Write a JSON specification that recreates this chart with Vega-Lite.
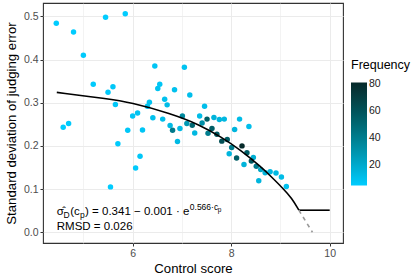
{
  "$schema": "https://vega.github.io/schema/vega-lite/v6.json",
  "width": 300,
  "height": 240,
  "autosize": {"type": "none"},
  "padding": {"left": 43, "top": 3, "right": 72, "bottom": 34},
  "background": "white",
  "config": {
    "font": "Liberation Sans",
    "view": {"stroke": "#333333", "strokeWidth": 1.1},
    "axis": {
      "labelFont": "Liberation Sans",
      "titleFont": "Liberation Sans",
      "labelFontSize": 10.5,
      "labelColor": "#4D4D4D",
      "titleFontSize": 13.2,
      "titleFontWeight": "normal",
      "titleColor": "#000000",
      "domain": false,
      "tickColor": "#333333",
      "tickSize": 3,
      "labelPadding": 2,
      "gridColor": "#EBEBEB"
    },
    "legend": {
      "titleFont": "Liberation Sans",
      "labelFont": "Liberation Sans"
    },
    "text": {"font": "Liberation Sans", "color": "#000000"}
  },
  "datasets": {
    "points": [
      {"score": 4.45, "sd": 0.484, "freq": 5},
      {"score": 4.80, "sd": 0.464, "freq": 5},
      {"score": 5.00, "sd": 0.410, "freq": 6},
      {"score": 5.45, "sd": 0.498, "freq": 5},
      {"score": 5.85, "sd": 0.506, "freq": 5},
      {"score": 5.20, "sd": 0.343, "freq": 6},
      {"score": 4.59, "sd": 0.243, "freq": 5},
      {"score": 4.70, "sd": 0.252, "freq": 6},
      {"score": 5.50, "sd": 0.324, "freq": 6},
      {"score": 5.60, "sd": 0.337, "freq": 7},
      {"score": 5.65, "sd": 0.296, "freq": 7},
      {"score": 6.45, "sd": 0.385, "freq": 8},
      {"score": 6.51, "sd": 0.333, "freq": 9},
      {"score": 6.55, "sd": 0.343, "freq": 8},
      {"score": 6.34, "sd": 0.301, "freq": 9},
      {"score": 6.30, "sd": 0.292, "freq": 10},
      {"score": 6.41, "sd": 0.265, "freq": 10},
      {"score": 6.00, "sd": 0.269, "freq": 8},
      {"score": 6.10, "sd": 0.276, "freq": 9},
      {"score": 5.90, "sd": 0.236, "freq": 7},
      {"score": 6.20, "sd": 0.237, "freq": 8},
      {"score": 6.61, "sd": 0.262, "freq": 11},
      {"score": 6.65, "sd": 0.308, "freq": 10},
      {"score": 6.70, "sd": 0.295, "freq": 12},
      {"score": 6.85, "sd": 0.330, "freq": 10},
      {"score": 7.05, "sd": 0.382, "freq": 9},
      {"score": 7.16, "sd": 0.318, "freq": 11},
      {"score": 6.76, "sd": 0.247, "freq": 13},
      {"score": 6.81, "sd": 0.236, "freq": 42},
      {"score": 6.96, "sd": 0.240, "freq": 13},
      {"score": 7.01, "sd": 0.269, "freq": 35},
      {"score": 7.10, "sd": 0.252, "freq": 28},
      {"score": 7.21, "sd": 0.248, "freq": 50},
      {"score": 7.26, "sd": 0.230, "freq": 14},
      {"score": 7.36, "sd": 0.269, "freq": 12},
      {"score": 7.46, "sd": 0.292, "freq": 11},
      {"score": 7.51, "sd": 0.262, "freq": 55},
      {"score": 7.41, "sd": 0.253, "freq": 32},
      {"score": 5.70, "sd": 0.205, "freq": 6},
      {"score": 6.15, "sd": 0.176, "freq": 7},
      {"score": 6.06, "sd": 0.149, "freq": 6},
      {"score": 5.55, "sd": 0.105, "freq": 5},
      {"score": 6.91, "sd": 0.210, "freq": 13},
      {"score": 7.65, "sd": 0.266, "freq": 16},
      {"score": 7.76, "sd": 0.261, "freq": 15},
      {"score": 7.86, "sd": 0.262, "freq": 14},
      {"score": 8.17, "sd": 0.262, "freq": 12},
      {"score": 8.36, "sd": 0.245, "freq": 11},
      {"score": 8.07, "sd": 0.238, "freq": 15},
      {"score": 7.61, "sd": 0.240, "freq": 55},
      {"score": 7.53, "sd": 0.229, "freq": 40},
      {"score": 7.71, "sd": 0.227, "freq": 58},
      {"score": 7.81, "sd": 0.211, "freq": 62},
      {"score": 7.92, "sd": 0.215, "freq": 55},
      {"score": 8.01, "sd": 0.196, "freq": 40},
      {"score": 7.96, "sd": 0.182, "freq": 15},
      {"score": 8.22, "sd": 0.200, "freq": 81},
      {"score": 8.11, "sd": 0.172, "freq": 55},
      {"score": 8.32, "sd": 0.184, "freq": 55},
      {"score": 8.26, "sd": 0.157, "freq": 16},
      {"score": 8.45, "sd": 0.173, "freq": 18},
      {"score": 8.41, "sd": 0.165, "freq": 58},
      {"score": 8.51, "sd": 0.153, "freq": 42},
      {"score": 8.60, "sd": 0.145, "freq": 22},
      {"score": 8.69, "sd": 0.138, "freq": 16},
      {"score": 8.79, "sd": 0.140, "freq": 14},
      {"score": 8.91, "sd": 0.137, "freq": 13},
      {"score": 9.02, "sd": 0.128, "freq": 12},
      {"score": 9.12, "sd": 0.106, "freq": 10},
      {"score": 8.56, "sd": 0.119, "freq": 15}
    ],
    "curve": [
      {"score": 4.46, "sd": 0.324},
      {"score": 5.48, "sd": 0.309},
      {"score": 5.95, "sd": 0.301},
      {"score": 6.77, "sd": 0.275},
      {"score": 7.38, "sd": 0.248},
      {"score": 7.79, "sd": 0.221},
      {"score": 8.20, "sd": 0.190},
      {"score": 8.61, "sd": 0.151},
      {"score": 8.82, "sd": 0.128},
      {"score": 9.055, "sd": 0.101},
      {"score": 9.23, "sd": 0.079},
      {"score": 9.374, "sd": 0.051}
    ],
    "floor": [
      {"score": 9.374, "sd": 0.051},
      {"score": 10.0, "sd": 0.051}
    ],
    "tail": [
      {"score": 9.374, "sd": 0.051},
      {"score": 9.65, "sd": 0.0}
    ]
  },
  "layer": [
    {
      "data": {"name": "points"},
      "mark": {"type": "circle", "size": 30, "opacity": 1},
      "encoding": {
        "x": {
          "field": "score", "type": "quantitative",
          "scale": {"domain": [4.18, 10.27], "nice": false, "zero": false},
          "axis": {
            "title": "Control score",
            "values": [5, 6, 7, 8, 9, 10],
            "labelExpr": "datum.value % 2 == 0 ? datum.label : ''",
            "tickOpacity": {"condition": {"test": "datum.value % 2 == 0", "value": 1}, "value": 0},
            "gridWidth": {"condition": {"test": "datum.value % 2 == 0", "value": 1}, "value": 0.6},
            "titlePadding": 4
          }
        },
        "y": {
          "field": "sd", "type": "quantitative",
          "scale": {"domain": [-0.025, 0.531], "nice": false, "zero": false},
          "axis": {
            "title": "Standard deviation of judging error",
            "values": [0, 0.05, 0.1, 0.15, 0.2, 0.25, 0.3, 0.35, 0.4, 0.45, 0.5],
            "format": ".1f",
            "labelExpr": "round(datum.value * 100) % 10 == 0 ? datum.label : ''",
            "tickOpacity": {"condition": {"test": "round(datum.value * 100) % 10 == 0", "value": 1}, "value": 0},
            "gridWidth": {"condition": {"test": "round(datum.value * 100) % 10 == 0", "value": 1}, "value": 0.6},
            "titlePadding": 5
          }
        },
        "color": {
          "field": "freq", "type": "quantitative",
          "scale": {"domain": [5, 81], "range": ["#00CCFF", "#062A2A"]},
          "legend": {
            "title": "Frequency",
            "orient": "none",
            "legendX": 308,
            "legendY": 56,
            "direction": "vertical",
            "gradientLength": 103,
            "gradientThickness": 16,
            "values": [20, 40, 60, 80],
            "titleFontSize": 12.5,
            "titleFontWeight": "normal",
            "titleColor": "#000000",
            "titlePadding": 11,
            "labelFontSize": 10.5,
            "labelColor": "#1A1A1A",
            "labelOffset": 2,
            "gradientStrokeWidth": 0
          }
        }
      }
    },
    {
      "data": {"name": "curve"},
      "mark": {"type": "line", "color": "#000000", "strokeWidth": 1.6, "interpolate": "basis"},
      "encoding": {
        "x": {"field": "score", "type": "quantitative"},
        "y": {"field": "sd", "type": "quantitative"}
      }
    },
    {
      "data": {"name": "floor"},
      "mark": {"type": "line", "color": "#000000", "strokeWidth": 1.6},
      "encoding": {
        "x": {"field": "score", "type": "quantitative"},
        "y": {"field": "sd", "type": "quantitative"}
      }
    },
    {
      "data": {"name": "tail"},
      "mark": {"type": "line", "color": "#999999", "strokeWidth": 1.6, "strokeDash": [4, 4]},
      "encoding": {
        "x": {"field": "score", "type": "quantitative"},
        "y": {"field": "sd", "type": "quantitative"}
      }
    },
    {
      "data": {"values": [{"t": "σ̂"}]},
      "mark": {"type": "text", "align": "left", "baseline": "alphabetic", "fontSize": 11.5, "dx": 0},
      "encoding": {"x": {"datum": 4.46, "type": "quantitative"}, "y": {"datum": 0.041, "type": "quantitative"}, "text": {"field": "t"}}
    },
    {
      "data": {"values": [{"t": "D"}]},
      "mark": {"type": "text", "align": "left", "baseline": "alphabetic", "fontSize": 8.5, "dx": 6.8, "dy": 3},
      "encoding": {"x": {"datum": 4.46, "type": "quantitative"}, "y": {"datum": 0.041, "type": "quantitative"}, "text": {"field": "t"}}
    },
    {
      "data": {"values": [{"t": "(c"}]},
      "mark": {"type": "text", "align": "left", "baseline": "alphabetic", "fontSize": 11.5, "dx": 13.5},
      "encoding": {"x": {"datum": 4.46, "type": "quantitative"}, "y": {"datum": 0.041, "type": "quantitative"}, "text": {"field": "t"}}
    },
    {
      "data": {"values": [{"t": "p"}]},
      "mark": {"type": "text", "align": "left", "baseline": "alphabetic", "fontSize": 8.5, "dx": 23.3, "dy": 3},
      "encoding": {"x": {"datum": 4.46, "type": "quantitative"}, "y": {"datum": 0.041, "type": "quantitative"}, "text": {"field": "t"}}
    },
    {
      "data": {"values": [{"t": ") = 0.341 − 0.001 · e"}]},
      "mark": {"type": "text", "align": "left", "baseline": "alphabetic", "fontSize": 11.5, "dx": 28.3},
      "encoding": {"x": {"datum": 4.46, "type": "quantitative"}, "y": {"datum": 0.041, "type": "quantitative"}, "text": {"field": "t"}}
    },
    {
      "data": {"values": [{"t": "0.566·c"}]},
      "mark": {"type": "text", "align": "left", "baseline": "alphabetic", "fontSize": 8.5, "dx": 133, "dy": -5},
      "encoding": {"x": {"datum": 4.46, "type": "quantitative"}, "y": {"datum": 0.041, "type": "quantitative"}, "text": {"field": "t"}}
    },
    {
      "data": {"values": [{"t": "p"}]},
      "mark": {"type": "text", "align": "left", "baseline": "alphabetic", "fontSize": 6.5, "dx": 161, "dy": -3},
      "encoding": {"x": {"datum": 4.46, "type": "quantitative"}, "y": {"datum": 0.041, "type": "quantitative"}, "text": {"field": "t"}}
    },
    {
      "data": {"values": [{"t": "RMSD = 0.026"}]},
      "mark": {"type": "text", "align": "left", "baseline": "alphabetic", "fontSize": 11.5},
      "encoding": {"x": {"datum": 4.46, "type": "quantitative"}, "y": {"datum": 0.0046, "type": "quantitative"}, "text": {"field": "t"}}
    }
  ]
}
